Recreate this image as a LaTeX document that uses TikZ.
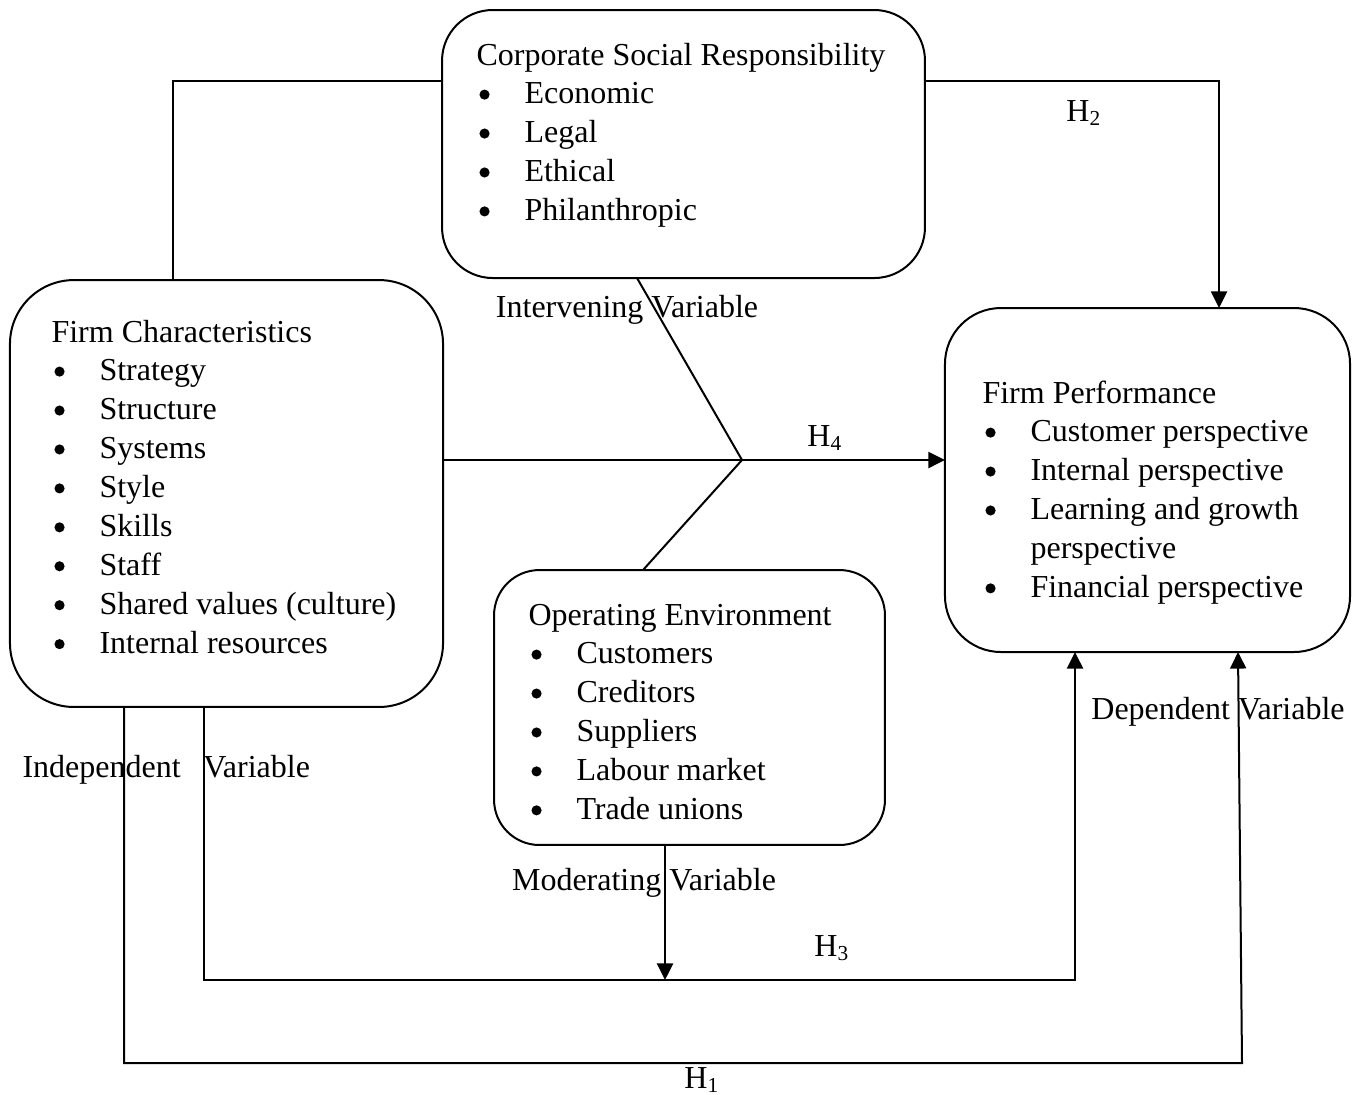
\documentclass[tikz,border=0pt]{standalone}
\usepackage{fontspec}
\setmainfont{Liberation Serif}
\usetikzlibrary{arrows.meta}
\newcommand{\bdot}{\tikz[baseline=0pt]\fill (0pt,3.5pt) circle[radius=1.9pt];}
\newcommand{\bitem}[1]{\hspace*{1.1pt}\makebox[16.9pt][l]{\bdot}#1}
\begin{document}
\begin{tikzpicture}[x=0.375pt,y=-0.375pt,
  every node/.style={font=\fontsize{12}{14.6}\selectfont},
  box/.style={draw,line width=0.75pt,inner sep=0pt,outer sep=0pt},
  txt/.style={anchor=base west,inner sep=0pt,align=left},
  lbl/.style={anchor=base,inner sep=0pt},
  conn/.style={line width=0.75pt},
  arr/.style={line width=0.75pt,-{Triangle[length=6.2pt,width=6pt]}}]
\fill[white] (0,0) rectangle (1365,1094);
\useasboundingbox (0,0) rectangle (1365,1094);
% boxes
\node[box,rounded corners=19pt,minimum width=181.1pt,minimum height=100.5pt] (csr) at (683.5,144) {};
\node[box,rounded corners=24pt,minimum width=162.4pt,minimum height=160.1pt] (fc) at (226.5,493.5) {};
\node[box,rounded corners=21pt,minimum width=151.9pt,minimum height=129pt] (fp) at (1147.5,480) {};
\node[box,rounded corners=17pt,minimum width=146.6pt,minimum height=103.1pt] (oe) at (689.5,707.5) {};
% box texts
\node[txt] (csrtext) at (476,65) {\begin{tabular}[t]{@{}l@{}}Corporate Social Responsibility\\
\bitem{Economic}\\ \bitem{Legal}\\ \bitem{Ethical}\\ \bitem{Philanthropic}\end{tabular}};
\node[txt] (fctext) at (51,342) {\begin{tabular}[t]{@{}l@{}}Firm Characteristics\\
\bitem{Strategy}\\ \bitem{Structure}\\ \bitem{Systems}\\ \bitem{Style}\\ \bitem{Skills}\\
\bitem{Staff}\\ \bitem{Shared values (culture)}\\ \bitem{Internal resources}\end{tabular}};
\node[txt] (fptext) at (982,403) {\begin{tabular}[t]{@{}l@{}}Firm Performance\\
\bitem{Customer perspective}\\ \bitem{Internal perspective}\\ \bitem{Learning and growth}\\
\hspace*{18pt}perspective\\ \bitem{Financial perspective}\end{tabular}};
\node[txt] (oetext) at (528,625) {\begin{tabular}[t]{@{}l@{}}Operating Environment\\
\bitem{Customers}\\ \bitem{Creditors}\\ \bitem{Suppliers}\\ \bitem{Labour market}\\ \bitem{Trade unions}\end{tabular}};
% labels
\node[lbl] (intv) at (627,317) {Intervening Variable};
\node[lbl] (modv) at (644,890) {Moderating Variable};
\node[txt] (indv) at (22,777) {Independent\hspace{8.5pt}Variable};
\node[lbl] (depv) at (1218,719) {Dependent Variable};
\node[lbl] (h1) at (702,1088) {H\textsubscript{1}};
\node[lbl] (h2) at (1084,121) {H\textsubscript{2}};
\node[lbl] (h3) at (832,956) {H\textsubscript{3}};
\node[lbl] (h4) at (825,446) {H\textsubscript{4}};
% coordinates
\coordinate (j) at (742,460);
\coordinate (c3) at (1075,980);
\coordinate (c1) at (1242,1063);
\coordinate (c2) at (1219,81);
% connectors
\draw[conn] (173,0 |- fc.north) |- (csr.west |- 0,81);
\draw[arr] (csr.east |- c2) -- (c2) -- (c2 |- fp.north);
\draw[arr] (fc.east |- j) -- (fp.west |- j);
\draw[conn] (637,0 |- csr.south) -- (j) -- (643,0 |- oe.north);
\draw[arr] (204,0 |- fc.south) |- (c3) -- (c3 |- fp.south);
\draw[arr] (124,0 |- fc.south) |- (c1) -- (1238,0 |- fp.south);
\draw[arr] (665,0 |- oe.south) -- (665,0 |- c3);
\end{tikzpicture}
\end{document}
